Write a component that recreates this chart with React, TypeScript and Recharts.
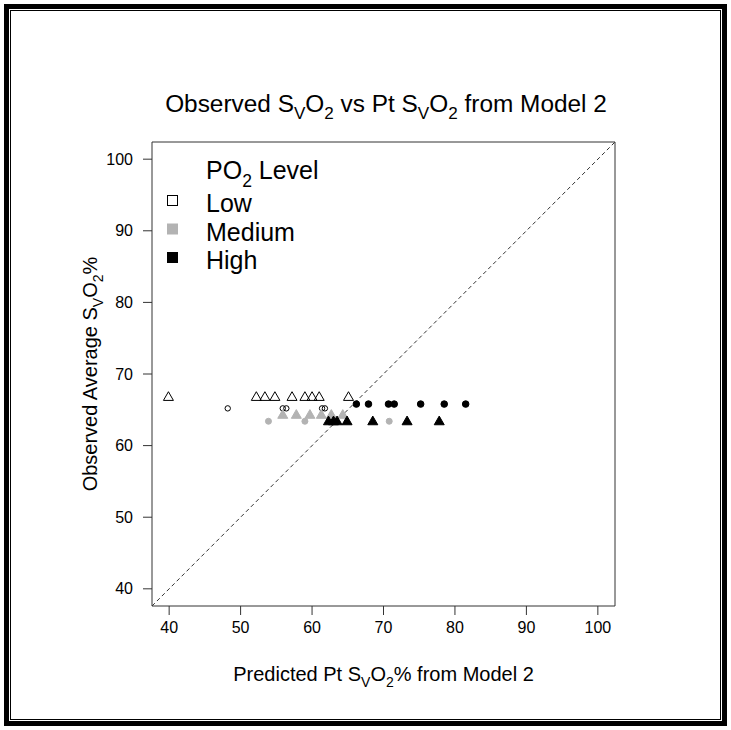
import React from "react";
import { ReferenceArea, ReferenceLine, Scatter, ScatterChart, XAxis, YAxis } from "recharts";

// Predicted Pt SvO2 (x) for each group; observed average SvO2 (y) is one value per group
const lowTriangleX = [39.9, 52.2, 53.4, 54.8, 57.2, 59.0, 60.0, 61.0, 65.1];
const lowTriangleY = 66.8;
const lowCircleX = [48.2, 55.9, 56.4, 61.4, 61.8];
const lowCircleY = 65.2;
const mediumTriangleX = [55.9, 57.8, 59.7, 61.3, 62.7, 64.3];
const mediumTriangleY = 64.3;
const mediumCircleX = [53.9, 59.0, 70.8];
const mediumCircleY = 63.4;
const highTriangleX = [62.3, 63.0, 63.5, 64.9, 68.5, 73.3, 77.8];
const highTriangleY = 63.4;
const highCircleX = [66.2, 67.9, 70.7, 71.5, 75.2, 78.5, 81.5];
const highCircleY = 65.8;

const ticks = [40, 50, 60, 70, 80, 90, 100];
const legendLevels = ["Low", "Medium", "High"];
const legendColors = ["#ffffff", "#b3b3b3", "#000000"];

const lo = 37.6;
const hi = 102.4;
const font = "'Liberation Sans', Arial, Helvetica, sans-serif";
const GRAY = "#b3b3b3";

const toPoints = (xs: number[], y: number) => xs.map((x) => ({ x, y }));

function Triangle({ cx, cy, fill, stroke }: any) {
  if (cx == null || cy == null) return null;
  const d = `M${cx},${cy - 5.2} L${cx + 5},${cy + 3.5} L${cx - 5},${cy + 3.5} Z`;
  return <path d={d} fill={fill} stroke={stroke} strokeWidth={1} strokeLinejoin="miter" />;
}

function Dot({ cx, cy, r, fill, stroke }: any) {
  if (cx == null || cy == null) return null;
  return <circle cx={cx} cy={cy} r={r} fill={fill} stroke={stroke} strokeWidth={1} />;
}

// text with R-style subscripts: parts alternate normal / subscript
function SubText({ x, y, size, parts, anchor = "middle", rotate }: any) {
  const sub = size * 0.7;
  const shift = size * 0.3;
  let down = false;
  const spans = parts.map(([t, isSub]: [string, boolean], i: number) => {
    let dy = 0;
    if (isSub && !down) { dy = shift; down = true; }
    else if (!isSub && down) { dy = -shift; down = false; }
    return (
      <tspan key={i} dy={dy} fontSize={isSub ? sub : size}>
        {t}
      </tspan>
    );
  });
  return (
    <text
      x={x}
      y={y}
      fontSize={size}
      fontFamily={font}
      fill="#000"
      textAnchor={anchor}
      style={{ whiteSpace: "pre" }}
      transform={rotate ? `rotate(${rotate} ${x} ${y})` : undefined}
    >
      {spans}
    </text>
  );
}

export default function App() {
  return (
    <div style={{ position: "absolute", left: 0, top: 0, width: 731, height: 730, background: "#fff" }}>
      <ScatterChart width={731} height={730} margin={{ top: 142, right: 116, bottom: 64, left: 92 }}>
        <XAxis
          type="number"
          dataKey="x"
          domain={[lo, hi]}
          ticks={ticks}
          allowDataOverflow
          axisLine={false}
          tickLine={{ stroke: "#333" }}
          tickSize={9}
          tickMargin={7}
          height={60}
          tick={{ fontSize: 16, fill: "#000", fontFamily: font }}
          label={{
            content: (p: any) => (
              <SubText
                x={p.viewBox.x + p.viewBox.width / 2}
                y={681}
                size={20}
                parts={[["Predicted Pt S", false], ["V", true], ["O", false], ["2", true], ["% from Model 2", false]]}
              />
            ),
          }}
        />
        <YAxis
          type="number"
          dataKey="y"
          domain={[lo, hi]}
          ticks={ticks}
          allowDataOverflow
          axisLine={false}
          tickLine={{ stroke: "#333" }}
          tickSize={9}
          tickMargin={10}
          width={60}
          tick={{ fontSize: 16, fill: "#000", fontFamily: font }}
          label={{
            content: (p: any) => (
              <SubText
                x={97}
                y={p.viewBox.y + p.viewBox.height / 2}
                size={20}
                rotate={-90}
                parts={[["Observed Average S", false], ["V", true], ["O", false], ["2", true], ["%", false]]}
              />
            ),
          }}
        />
        <ReferenceArea x1={lo} x2={hi} y1={lo} y2={hi} fill="none" stroke="#333" strokeWidth={1} />
        <ReferenceLine
          segment={[{ x: lo, y: lo }, { x: hi, y: hi }]}
          stroke="#333"
          strokeDasharray="4 3"
        />
        <Scatter
          data={toPoints(lowTriangleX, lowTriangleY)}
          isAnimationActive={false}
          shape={(p: any) => <Triangle {...p} fill="none" stroke="#000" />}
        />
        <Scatter
          data={toPoints(lowCircleX, lowCircleY)}
          isAnimationActive={false}
          shape={(p: any) => <Dot {...p} r={2.7} fill="none" stroke="#000" />}
        />
        <Scatter
          data={toPoints(mediumTriangleX, mediumTriangleY)}
          isAnimationActive={false}
          shape={(p: any) => <Triangle {...p} fill={GRAY} stroke={GRAY} />}
        />
        <Scatter
          data={toPoints(mediumCircleX, mediumCircleY)}
          isAnimationActive={false}
          shape={(p: any) => <Dot {...p} r={3} fill={GRAY} stroke={GRAY} />}
        />
        <Scatter
          data={toPoints(highTriangleX, highTriangleY)}
          isAnimationActive={false}
          shape={(p: any) => <Triangle {...p} fill="#000" stroke="#000" />}
        />
        <Scatter
          data={toPoints(highCircleX, highCircleY)}
          isAnimationActive={false}
          shape={(p: any) => <Dot {...p} r={3.3} fill="#000" stroke="#000" />}
        />
      </ScatterChart>
      <svg
        width={731}
        height={730}
        style={{ position: "absolute", left: 0, top: 0, pointerEvents: "none" }}
      >
        <rect x={6.5} y={6.5} width={718} height={717} fill="none" stroke="#000" strokeWidth={5} />
        <rect x={10.5} y={10.5} width={710} height={709} fill="none" stroke="#000" strokeWidth={1} />
        <SubText
          x={386}
          y={112}
          size={24.4}
          parts={[["Observed S", false], ["V", true], ["O", false], ["2", true], [" vs Pt S", false], ["V", true], ["O", false], ["2", true], [" from Model 2", false]]}
        />
        <SubText x={206} y={179} size={25} anchor="start" parts={[["PO", false], ["2", true], [" Level", false]]} />
        {legendLevels.map((lvl, i) => (
          <g key={lvl}>
            <rect
              x={167.5}
              y={195.5 + i * 28.5}
              width={10}
              height={10}
              fill={legendColors[i]}
              stroke={i === 1 ? GRAY : "#000"}
              strokeWidth={1}
            />
            <text x={206} y={212 + i * 28.5} fontSize={25} fontFamily={font} fill="#000">
              {lvl}
            </text>
          </g>
        ))}
      </svg>
    </div>
  );
}
